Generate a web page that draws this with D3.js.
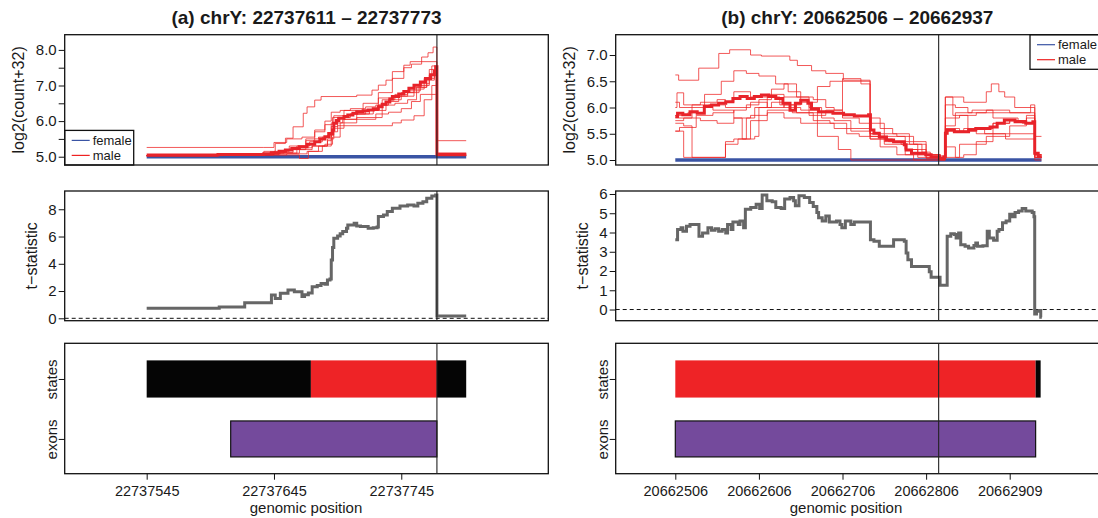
<!DOCTYPE html>
<html>
<head>
<meta charset="utf-8">
<title>chrY coverage</title>
<script src="https://d3js.org/d3.v7.min.js"></script>
<style>
  body { margin: 0; background: #fff; }
  svg text { font-family: "Liberation Sans", Arial, Helvetica, sans-serif; fill: #1a1a1a; }
</style>
</head>
<body>
<svg id="chart" width="1098" height="518"></svg>
<script>
"use strict"

// ---------- dados (posicoes em pb relativas ao inicio de cada regiao) ----------
var startA = 22737545, startB = 20662506;
var titleA = "(a) chrY: 22737611 \u2013 22737773";
var titleB = "(b) chrY: 20662506 \u2013 20662937";

var ticksA = [22737545, 22737645, 22737745];
var tickLabelsA = ["22737545", "22737645", "22737745"];
var ticksB = [20662506, 20662606, 20662706, 20662806, 20662906];
var tickLabelsB = ["20662506", "20662606", "20662706", "20662806", "20662909"];

var covTicksA = [5, 5.5, 6, 6.5, 7, 7.5, 8];
var covLabelsA = ["5.0", "", "6.0", "", "7.0", "", "8.0"];
var covTicksB = [5, 5.5, 6, 6.5, 7];
var covLabelsB = ["5.0", "5.5", "6.0", "6.5", "7.0"];
var tTicksA = [0, 2, 4, 6, 8];
var tTicksB = [0, 1, 2, 3, 4, 5, 6];

var trackNames = ["exons", "states"];
var stateColors = ["#050505", "#ee2326"];

// amostras masculinas (a)
var malesA = [
  [[0,5.03],[56,5.08],[92,5.15],[101,5.37],[109,5.52],[115,5.84],[123,6.22],[126,6.4],[132,6.59],[137,6.69],[165,6.73],[177,6.87],[182,7.01],[188,7.15],[193,7.39],[202,7.57],[207,7.67],[228,5.1],[251,5.1]],
  [[0,5.03],[56,5.06],[98,5.12],[115,5.2],[125,5.45],[132,5.7],[140,5.9],[146,6.1],[155,6.3],[170,6.5],[182,6.8],[193,7.2],[202,7.5],[208,7.6],[216,7.8],[221,7.92],[225,8.08],[228,5.07],[251,5.07]],
  [[0,5.26],[92,5.26],[100,5.4],[110,5.5],[122,5.55],[132,5.75],[140,6.0],[145,6.25],[152,6.3],[160,6.35],[172,6.4],[180,6.45],[185,6.6],[195,6.75],[205,6.85],[215,7.05],[222,7.45],[228,5.45],[251,5.45]],
  [[0,5.03],[56,5.05],[110,5.08],[126,5.15],[138,5.3],[145,5.7],[150,5.87],[193,5.95],[200,6.03],[210,6.15],[218,6.6],[224,6.75],[228,5.03],[251,5.03]],
  [[0,5.03],[56,5.05],[100,5.1],[120,5.2],[130,5.3],[142,5.45],[145,5.95],[154,6.05],[180,6.1],[185,6.45],[195,6.5],[205,6.6],[212,6.95],[220,7.2],[226,7.4],[228,5.05],[251,5.05]],
  [[0,5.03],[56,5.05],[110,5.05],[120,4.95],[127,5.15],[135,5.3],[142,5.5],[147,5.8],[155,6.05],[165,6.2],[178,6.3],[188,6.55],[198,6.7],[210,6.9],[218,7.2],[224,7.55],[228,5.03],[251,5.03]],
  [[0,5.03],[60,5.07],[96,5.1],[108,5.2],[118,5.3],[128,5.42],[138,5.55],[145,5.85],[150,6.1],[160,6.2],[172,6.3],[182,6.45],[190,6.6],[200,6.8],[210,6.95],[220,7.15],[226,7.3],[228,5.08],[251,5.08]],
  [[0,5.03],[56,5.06],[104,5.1],[118,5.25],[130,5.3],[140,5.35],[146,5.55],[152,5.95],[165,6.1],[180,6.2],[190,6.25],[200,6.35],[208,6.55],[215,6.75],[224,7.0],[228,5.04],[251,5.04]],
  [[0,5.03],[56,5.06],[100,5.15],[112,5.3],[125,5.5],[135,5.55],[142,5.6],[147,6.15],[160,6.2],[175,6.3],[182,6.65],[195,6.7],[205,6.8],[214,7.0],[222,7.3],[228,5.06],[251,5.06]]
];
var maleMeanA = [[0,5.05],[56,5.06],[92,5.08],[98,5.11],[104,5.15],[109,5.19],[114,5.23],[120,5.28],[126,5.35],[132,5.42],[136,5.5],[140,5.56],[143,5.65],[146,5.75],[147,5.94],[149,6.02],[151,6.08],[155,6.13],[158,6.17],[162,6.22],[165,6.26],[170,6.29],[174,6.31],[178,6.35],[182,6.4],[185,6.47],[188,6.54],[191,6.62],[193,6.69],[198,6.76],[202,6.83],[206,6.92],[210,7.01],[215,7.1],[219,7.2],[223,7.3],[226,7.39],[227,7.53],[228,5.07],[251,5.07]];
var femaleMeanA = [[0,5.0],[251,5.0]];
var tstatA = [[0,0.73],[57,0.83],[77,1.15],[98,1.71],[101,1.46],[105,1.83],[111,2.08],[116,1.95],[122,1.6],[124,1.72],[127,1.85],[130,2.32],[134,2.4],[137,2.56],[140,2.5],[142,2.81],[144,2.88],[145,4.28],[146,5.2],[147,5.87],[150,6.04],[152,6.2],[154,6.36],[157,6.6],[158,6.85],[163,6.97],[165,6.78],[168,6.73],[174,6.6],[178,6.65],[181,6.7],[182,7.46],[186,7.58],[189,7.83],[193,8.07],[199,8.24],[205,8.31],[210,8.24],[213,8.44],[217,8.56],[220,8.81],[224,8.98],[227,9.05],[228,0.17],[251,0.17]];
var statesA = [[0,129,0],[129,228,1],[228,251,0]];
var exonA = [66, 228];
var boundaryA = 228;

// amostras masculinas (b)
var malesB = [
  [[0,6.62],[4,6.52],[28,6.75],[52,7.03],[65,7.1],[90,7.0],[103,6.98],[137,6.9],[146,6.8],[163,6.7],[180,6.65],[201,6.52],[233,5.5],[245,5.45],[275,5.1],[300,5.03],[317,5.0],[323,6.2],[345,6.1],[372,6.3],[378,6.45],[387,6.3],[394,6.2],[406,6.0],[430,5.1],[438,5.1]],
  [[0,6.0],[2,6.28],[10,6.05],[30,6.1],[50,6.15],[60,6.1],[70,6.3],[90,6.2],[110,6.25],[130,6.2],[150,6.15],[160,5.9],[180,5.95],[200,6.5],[222,6.45],[233,5.7],[250,5.5],[265,5.45],[285,5.3],[300,5.1],[317,5.03],[323,6.05],[335,6.0],[350,5.9],[372,5.95],[400,5.9],[425,6.05],[430,5.1],[438,5.1]],
  [[0,5.55],[5,5.62],[25,5.85],[45,5.9],[70,5.95],[85,6.05],[100,6.15],[115,6.35],[130,6.45],[145,6.2],[160,6.0],[175,5.8],[190,5.75],[210,5.6],[233,5.4],[255,5.35],[275,5.2],[290,5.05],[317,5.03],[323,5.6],[340,5.55],[360,5.5],[380,5.7],[400,5.75],[420,5.8],[430,5.05],[438,5.05]],
  [[0,5.7],[10,5.65],[20,5.05],[55,5.05],[60,5.3],[75,5.4],[85,5.8],[95,6.0],[110,6.2],[125,6.05],[145,5.9],[165,5.75],[185,5.7],[205,5.5],[220,5.45],[245,5.25],[265,5.1],[285,5.0],[317,5.0],[323,5.25],[335,5.05],[345,5.1],[360,5.35],[380,5.5],[400,5.65],[420,5.7],[430,5.0],[438,5.0]],
  [[0,5.85],[15,5.9],[35,6.25],[55,6.5],[70,6.7],[85,6.65],[100,6.6],[120,6.45],[135,6.3],[150,6.2],[165,6.15],[180,6.0],[190,5.95],[200,5.85],[220,5.85],[233,5.5],[250,5.35],[270,5.3],[290,5.1],[317,5.05],[323,5.65],[335,5.9],[355,5.95],[380,5.8],[410,5.75],[420,5.85],[430,5.1],[438,5.1]],
  [[0,6.1],[5,6.0],[20,6.05],[45,5.95],[70,5.8],[80,5.4],[95,5.45],[100,6.0],[115,6.1],[130,6.0],[150,5.95],[170,5.7],[190,5.6],[210,5.55],[233,5.45],[250,5.3],[275,5.2],[300,5.05],[317,5.03],[323,6.2],[332,5.85],[350,5.6],[370,5.5],[395,5.4],[430,5.05],[438,5.05]],
  [[0,5.55],[10,5.05],[45,5.05],[60,5.35],[70,5.4],[90,5.75],[110,5.9],[130,5.8],[150,5.7],[170,5.45],[195,5.2],[210,5.0],[317,5.0],[323,5.05],[340,5.3],[372,5.45],[400,5.5],[430,5.45],[438,5.45]],
  [[0,5.8],[20,6.0],[40,6.05],[60,6.0],[90,6.1],[110,6.0],[130,6.05],[150,6.1],[170,6.4],[185,6.5],[200,6.55],[222,6.5],[233,5.8],[245,5.6],[260,5.5],[280,5.35],[300,5.1],[317,5.05],[323,5.8],[340,5.85],[360,5.9],[425,5.9],[430,5.05],[438,5.05]],
  [[0,5.75],[10,5.8],[30,5.75],[50,5.7],[70,5.8],[90,5.85],[110,5.95],[140,5.9],[160,5.85],[180,5.9],[200,5.8],[220,5.7],[233,5.4],[260,5.35],[280,5.3],[295,5.15],[305,5.05],[317,5.02],[323,5.55],[345,5.6],[380,5.7],[400,5.75],[415,5.7],[430,5.1],[438,5.1]]
];
var maleMeanB = [[0,5.83],[2.7,5.89],[9,5.86],[17.6,5.92],[26.2,5.89],[34.7,6.02],[43.3,6.05],[51.8,6.08],[60.3,6.11],[68.9,6.17],[77.4,6.21],[86,6.17],[94.5,6.21],[103,6.24],[111.6,6.21],[120.2,6.17],[128.7,6.08],[137.2,5.95],[143.6,6.08],[150,6.14],[158.6,6.08],[162.9,5.97],[171.4,5.92],[188.5,5.89],[201.3,5.86],[214.1,5.84],[231.2,5.86],[233.4,5.57],[237.6,5.51],[244,5.44],[252.6,5.38],[261.1,5.35],[273.9,5.29],[276.1,5.19],[282.5,5.13],[299.6,5.1],[306,5.06],[316.7,5.03],[321,5.06],[323.1,5.51],[325.2,5.57],[333.8,5.54],[350.8,5.57],[359.4,5.6],[376.5,5.63],[385,5.7],[393.6,5.76],[406.4,5.73],[419.2,5.7],[427.7,5.73],[429.9,5.13],[434.1,5.06],[438.4,5.06]];
var femaleMeanB = [[0,5.0],[438,5.0]];
var tstatB = [[0,3.63],[2.7,4.16],[6.9,4.25],[9.1,4.07],[13.4,4.33],[17.6,4.42],[26.2,4.42],[28.3,3.8],[32.6,3.98],[39,4.25],[43.3,4.12],[47.5,4.19],[51.8,4.07],[56.1,4.16],[60.3,3.98],[62.5,4.42],[66.8,4.16],[68.9,4.54],[75.3,4.42],[77.4,4.6],[81.7,4.25],[83.8,5.21],[90.2,5.3],[96.7,5.47],[100.9,5.25],[103.9,5.95],[109.5,5.65],[115.9,5.6],[120.2,5.3],[126.6,5.25],[130.8,5.74],[137.2,5.82],[141.5,5.65],[143.6,5.39],[147.9,5.91],[154.3,5.82],[160.7,5.56],[165,5.35],[169.3,5.04],[171.4,4.77],[175.7,4.6],[180,4.86],[184.2,4.54],[192.8,4.6],[197,4.42],[199.2,4.25],[203.4,4.6],[209.9,4.42],[214.1,4.54],[231.2,4.54],[233.4,3.63],[237.6,3.54],[244,3.28],[259,3.28],[261.1,3.63],[273.9,3.54],[276.1,2.93],[278.2,2.58],[282.5,2.23],[299.6,2.23],[303.8,1.96],[306,1.67],[314.5,1.67],[316.7,1.26],[323.1,1.26],[325.2,3.81],[329.5,3.93],[333.8,3.9],[335.9,3.72],[338.9,3.98],[341.4,3.37],[346.6,3.28],[350.8,3.19],[357.2,3.33],[359.4,3.46],[361.5,3.28],[367.9,3.31],[372.2,3.31],[373.1,4.07],[375.6,3.72],[380.7,3.6],[385,4.07],[387.1,4.16],[391.4,4.51],[395.7,4.6],[400,4.95],[402.9,4.82],[406.4,5.04],[410.6,5.12],[414.9,5.25],[419.2,5.12],[426.9,5.04],[429,4.82],[429.9,-0.23],[432,-0.09],[435.4,-0.05],[437.1,-0.4],[438.4,-0.4]];
var statesB = [[0,431,1],[431,437,0]];
var exonB = [0, 431];
var boundaryB = 315;

// ---------- layout ----------
var svg = d3.select("#chart");
var rows = { cov: [34.7, 165], tst: [191, 320.7], trk: [343.3, 473.7] };

function eixoY(g, y, ticks, labels, x0) {
  var a = g.append("g")
    .attr("transform", "translate(" + x0 + ",0)")
    .call(d3.axisLeft(y).tickValues(ticks).tickFormat(function(d, i) { return labels[i]; }).tickSize(6).tickPadding(2));
  a.select(".domain").remove();
  a.selectAll("line").attr("stroke", "#111");
  a.selectAll("text").attr("font-size", 15).style("fill", "#1a1a1a");
  return a;
}

function caixa(g, p, r) {
  g.append("rect")
    .attr("x", p.x0).attr("y", r[0])
    .attr("width", p.x1 - p.x0).attr("height", r[1] - r[0])
    .attr("fill", "none").attr("stroke", "#111").attr("stroke-width", 1.3);
}

function tituloY(g, txt, x, r) {
  g.append("text")
    .attr("transform", "translate(" + x + "," + ((r[0] + r[1]) / 2) + ") rotate(-90)")
    .attr("text-anchor", "middle").attr("dy", "0.35em")
    .attr("font-size", 16).text(txt);
}

function desenhaPainel(p) {
  var g = svg.append("g");
  var x = d3.scaleLinear().domain(p.xDomain).range([p.x0, p.x1]);
  var gx = function(d) { return x(p.start + d[0]); };

  // titulo
  g.append("text").attr("x", (p.x0 + p.x1) / 2).attr("y", 24)
    .attr("text-anchor", "middle").attr("font-size", 19).attr("font-weight", "bold")
    .text(p.title);

  // --- cobertura ---
  var yc = d3.scaleLinear().domain(p.covDomain).range([rows.cov[1], rows.cov[0]]);
  var passo = d3.line().x(gx).y(function(d) { return yc(d[1]); }).curve(d3.curveStepAfter);

  g.append("path").datum(p.femaleMean).attr("d", passo)
    .attr("fill", "none").attr("stroke", "#3a54a4").attr("stroke-width", 3.5);
  g.selectAll(".male").data(p.males).enter().append("path")
    .attr("class", "male").attr("d", passo)
    .attr("fill", "none").attr("stroke", "#ee2222").attr("stroke-opacity", 0.75).attr("stroke-width", 1);
  g.append("path").datum(p.maleMean).attr("d", passo)
    .attr("fill", "none").attr("stroke", "#e8232a").attr("stroke-width", 3);

  eixoY(g, yc, p.covTicks, p.covLabels, p.x0);
  tituloY(g, "log2(count+32)", p.x0 - 46, rows.cov);

  // legenda
  var lg = g.append("g");
  lg.append("rect").attr("x", p.legX).attr("y", p.legY).attr("width", 69).attr("height", 34.6)
    .attr("fill", "#fff").attr("stroke", "#111").attr("stroke-width", 1.3);
  [["female", "#3a54a4"], ["male", "#ee2222"]].forEach(function(it, i) {
    var yy = p.legY + 10 + i * 15;
    lg.append("line").attr("x1", p.legX + 7).attr("x2", p.legX + 25).attr("y1", yy).attr("y2", yy)
      .attr("stroke", it[1]).attr("stroke-width", 1.2);
    lg.append("text").attr("x", p.legX + 28).attr("y", yy).attr("dy", "0.35em")
      .attr("font-size", 13).text(it[0]);
  });
  caixa(g, p, rows.cov);

  // --- t-statistic ---
  var yt = d3.scaleLinear().domain(p.tDomain).range([rows.tst[1], rows.tst[0]]);
  g.append("line").attr("x1", p.x0).attr("x2", p.x1).attr("y1", yt(0)).attr("y2", yt(0))
    .attr("stroke", "#111").attr("stroke-dasharray", "4,3");
  g.append("path").datum(p.tstat)
    .attr("d", d3.line().x(gx).y(function(d) { return yt(d[1]); }).curve(d3.curveStepAfter))
    .attr("fill", "none").attr("stroke", "#666").attr("stroke-width", 3);
  eixoY(g, yt, p.tTicks, p.tTicks.map(String), p.x0);
  tituloY(g, "t\u2212statistic", p.x0 - 33, rows.tst);
  caixa(g, p, rows.tst);

  // --- estados e exons ---
  var yb = d3.scaleLinear().domain([0.42, 2.595]).range([rows.trk[1], rows.trk[0]]);
  g.selectAll(".state").data(p.states).enter().append("rect")
    .attr("x", function(d) { return x(p.start + d[0]); })
    .attr("width", function(d) { return x(p.start + d[1]) - x(p.start + d[0]); })
    .attr("y", yb(2 + 0.31)).attr("height", yb(2 - 0.31) - yb(2 + 0.31))
    .attr("fill", function(d) { return stateColors[d[2]]; });
  g.append("rect")
    .attr("x", x(p.start + p.exon[0])).attr("width", x(p.start + p.exon[1]) - x(p.start + p.exon[0]))
    .attr("y", yb(1 + 0.3)).attr("height", yb(1 - 0.3) - yb(1 + 0.3))
    .attr("fill", "#744a9c").attr("stroke", "#111").attr("stroke-width", 1.2);

  var at = g.append("g").attr("transform", "translate(" + p.x0 + ",0)")
    .call(d3.axisLeft(yb).tickValues([1, 2]).tickFormat(function(d) { return trackNames[d - 1]; }).tickSize(6));
  at.select(".domain").remove();
  at.selectAll("line").attr("stroke", "#111");
  at.selectAll("text").attr("x", null).attr("dy", null)
    .attr("transform", "translate(-8,0) rotate(-90)")
    .attr("text-anchor", "middle").attr("font-size", 15).style("fill", "#1a1a1a");
  caixa(g, p, rows.trk);

  // eixo x
  var ax = g.append("g").attr("transform", "translate(0," + rows.trk[1] + ")")
    .call(d3.axisBottom(x).tickValues(p.ticks).tickFormat(function(d, i) { return p.tickLabels[i]; })
      .tickSize(6).tickPadding(6));
  ax.select(".domain").remove();
  ax.selectAll("line").attr("stroke", "#111");
  ax.selectAll("text").attr("font-size", 14.5).style("fill", "#1a1a1a");
  g.append("text").attr("x", p.xlabX).attr("y", 513).attr("text-anchor", "middle")
    .attr("font-size", 15).text("genomic position");

  // linha de fronteira em cada painel
  [rows.cov, rows.tst, rows.trk].forEach(function(r) {
    g.append("line").attr("x1", x(p.start + p.boundary)).attr("x2", x(p.start + p.boundary))
      .attr("y1", r[0]).attr("y2", r[1]).attr("stroke", "#222").attr("stroke-width", 1.1);
  });
}

desenhaPainel({
  x0: 64.7, x1: 548.3, start: startA, xDomain: [22737480.6, 22737860.5],
  title: titleA, ticks: ticksA, tickLabels: tickLabelsA, xlabX: 306,
  covDomain: [4.767, 8.427], covTicks: covTicksA, covLabels: covLabelsA,
  tDomain: [-0.176, 9.34], tTicks: tTicksA,
  males: malesA, maleMean: maleMeanA, femaleMean: femaleMeanA, tstat: tstatA,
  states: statesA, exon: exonA, boundary: boundaryA,
  legX: 64.7, legY: 130.4
});

desenhaPainel({
  x0: 615.7, x1: 1099, start: startB, xDomain: [20662434.7, 20663012.8],
  title: titleB, ticks: ticksB, tickLabels: tickLabelsB, xlabX: 846,
  covDomain: [4.905, 7.387], covTicks: covTicksB, covLabels: covLabelsB,
  tDomain: [-0.58, 6.155], tTicks: tTicksB,
  males: malesB, maleMean: maleMeanB, femaleMean: femaleMeanB, tstat: tstatB,
  states: statesB, exon: exonB, boundary: boundaryB,
  legX: 1030, legY: 34.7
});
</script>
</body>
</html>
